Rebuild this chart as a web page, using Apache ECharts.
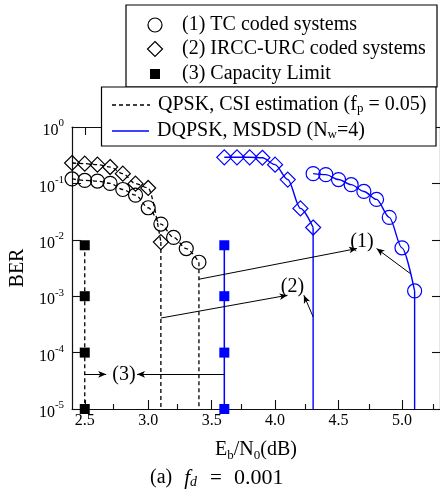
<!DOCTYPE html>
<html>
<head>
<meta charset="utf-8">
<script src="https://cdn.jsdelivr.net/npm/echarts@6/dist/echarts.min.js"></script>
<style>
  html, body { margin: 0; padding: 0; background: #fff; }
  #chart { width: 440px; height: 493px; }
</style>
</head>
<body>
<div id="chart"></div>
<script>
// BER vs Eb/N0 at fd = 0.001
const FONT = '"Liberation Serif", "DejaVu Serif", serif';

// QPSK with CSI estimation (dashed black)
const qpskTcEbN0 = [2.4, 2.5, 2.6, 2.7, 2.8, 2.9, 3.0, 3.1, 3.2, 3.3, 3.4];
const qpskTcBer = [0.12, 0.113, 0.11, 0.10, 0.078, 0.062, 0.037, 0.019, 0.011, 0.007, 0.004];
const qpskIrccEbN0 = [2.4, 2.5, 2.6, 2.7, 2.8, 2.9, 3.0, 3.1];
const qpskIrccBer = [0.23, 0.224, 0.215, 0.195, 0.149, 0.099, 0.083, 0.0091];

// DQPSK with MSDSD, Nw = 4 (solid blue)
const dqpskIrccEbN0 = [3.6, 3.7, 3.8, 3.9, 4.0, 4.1, 4.2, 4.3];
const dqpskIrccBer = [0.29, 0.29, 0.29, 0.285, 0.215, 0.117, 0.036, 0.0165];
const dqpskTcEbN0 = [4.3, 4.4, 4.5, 4.6, 4.7, 4.8, 4.9, 5.0, 5.1];
const dqpskTcBer = [0.149, 0.143, 0.117, 0.095, 0.072, 0.052, 0.025, 0.0072, 0.00124];

// Capacity limits
const capacityBer = [0.008, 1e-3, 1e-4, 1e-5];
const qpskCapacityEbN0 = 2.5;
const dqpskCapacityEbN0 = 3.6;

// Axis ranges and ticks
const berFloor = 1e-5;
const xMin = 2.4, xMax = 5.3;
const xMajorTicks = [2.5, 3.0, 3.5, 4.0, 4.5, 5.0];
const xMinorTicks = [2.75, 3.25, 3.75, 4.25, 4.75, 5.25];

// Annotation arrows [from, to] in data coordinates
const arrows = [
  [[3.4, 0.002], [4.646, 0.007]],
  [[5.068, 0.0025], [4.80, 0.007]],
  [[3.1, 4.1e-4], [4.098, 1.04e-3]],
  [[4.3, 4.3e-4], [4.227, 1.04e-3]],
  [[2.5, 4.12e-5], [2.669, 4.12e-5]],
  [[3.6, 4.12e-5], [2.912, 4.12e-5]]
];
const arrowLabels = [
  { text: '(1)', at: [4.685, 0.0092] },
  { text: '(2)', at: [4.137, 0.00146] },
  { text: '(3)', at: [2.809, 4.12e-5] }
];

const zip = (xs, ys) => xs.map((x, i) => [x, ys[i]]);
const last = (xs, ys) => [xs[xs.length - 1], ys[ys.length - 1]];
const dropLine = (xs, ys) => { const p = last(xs, ys); return [p, [p[0], berFloor]]; };

const BLUE = '#0000ff';
const DASH = [4, 3];

function curve(name, data, color, dashed, symbol, size) {
  return {
    name, type: 'line', data, smooth: 0.3, smoothMonotone: 'x',
    symbol, symbolSize: size, clip: false,
    lineStyle: { color, width: dashed ? 1.3 : 1.4, type: dashed ? DASH : 'solid' },
    itemStyle: { color: 'rgba(0,0,0,0)', borderColor: color, borderWidth: 1.2 },
    z: 3
  };
}
function straight(name, data, color, dashed) {
  return {
    name, type: 'line', data, symbol: 'none', clip: false,
    lineStyle: { color, width: dashed ? 1.3 : 1.4, type: dashed ? DASH : 'solid' },
    z: 2
  };
}
function capacity(name, x, color, dashed) {
  return {
    name, type: 'line', data: capacityBer.map(v => [x, v]),
    symbol: 'rect', symbolSize: 10, clip: false,
    lineStyle: { color, width: dashed ? 1.3 : 1.5, type: dashed ? DASH : 'solid' },
    itemStyle: { color, borderWidth: 0 },
    z: 4
  };
}

const supRich = {
  b: { fontFamily: FONT, fontSize: 16, color: '#000', lineHeight: 26 },
  s: { fontFamily: FONT, fontSize: 11, color: '#000', verticalAlign: 'top' }
};

const chart = echarts.init(document.getElementById('chart'), null, { renderer: 'canvas' });

const gridRect = { left: 68, top: 127, width: 373.5, height: 282 };
const axisLine = { show: true, lineStyle: { color: '#111', width: 1.2 } };
const txt = (size, extra) => Object.assign({ font: size + 'px ' + FONT, fill: '#000', verticalAlign: 'middle' }, extra || {});
const subRich = { s: { font: '13px ' + FONT, fill: '#000', verticalAlign: 'bottom' } };

// key boxes sit above the plot frame
const onTop = (z, els) => els.map(e => Object.assign({ z }, e));

const option = {
  animation: false,
  backgroundColor: '#fff',
  grid: [
    Object.assign({ show: false }, gridRect),
    Object.assign({ show: false }, gridRect)
  ],
  xAxis: [
    {
      type: 'value', gridIndex: 0, position: 'bottom', min: xMin, max: xMax,
      axisLine,
      axisTick: { show: true, inside: true, length: 9, customValues: xMajorTicks, lineStyle: { color: '#111', width: 1.1 } },
      axisLabel: {
        show: true, customValues: xMajorTicks, margin: 4,
        fontFamily: FONT, fontSize: 16, color: '#000',
        formatter: v => v.toFixed(1)
      },
      splitLine: { show: false },
      name: '{n|E}{s|b}{n|/N}{s|0}{n|(dB)}',
      nameLocation: 'middle', nameGap: 29,
      nameTextStyle: {
        rich: {
          n: { fontFamily: FONT, fontSize: 20, color: '#000', lineHeight: 24 },
          s: { fontFamily: FONT, fontSize: 13, color: '#000', verticalAlign: 'bottom' }
        }
      }
    },
    {
      type: 'value', gridIndex: 0, position: 'top', min: xMin, max: xMax,
      axisLine,
      axisTick: { show: true, inside: true, length: 8, customValues: xMajorTicks, lineStyle: { color: '#111', width: 1.1 } },
      axisLabel: { show: false },
      splitLine: { show: false }
    },
    {
      type: 'value', gridIndex: 1, position: 'bottom', min: xMin, max: xMax,
      axisLine: { show: false },
      axisTick: { show: true, inside: true, length: 5, customValues: xMinorTicks, lineStyle: { color: '#111', width: 1.1 } },
      axisLabel: { show: false },
      splitLine: { show: false }
    }
  ],
  yAxis: [
    {
      type: 'log', logBase: 10, gridIndex: 0, position: 'left', min: berFloor, max: 1,
      axisLine,
      axisTick: { show: true, inside: true, length: 9, lineStyle: { color: '#111', width: 1.1 } },
      minorTick: { show: false },
      axisLabel: {
        margin: 8, padding: [8, 0, 0, 0],
        formatter: v => '{b|10}{s|' + Math.round(Math.log10(v)) + '}',
        rich: supRich
      },
      splitLine: { show: false },
      name: 'BER', nameLocation: 'middle', nameRotate: 90, nameGap: 37,
      nameTextStyle: { fontFamily: FONT, fontSize: 20, color: '#000' }
    },
    {
      type: 'log', logBase: 10, gridIndex: 0, position: 'right', min: berFloor, max: 1,
      axisLine,
      axisTick: { show: true, inside: true, length: 8, lineStyle: { color: '#111', width: 1.1 } },
      axisLabel: { show: false },
      splitLine: { show: false }
    },
    {
      type: 'log', logBase: 10, gridIndex: 1, min: berFloor, max: 1,
      show: false
    }
  ],
  series: [
    curve('(1) TC, QPSK', zip(qpskTcEbN0, qpskTcBer), '#000', true, 'circle', 14),
    straight('(1) TC, QPSK limit', dropLine(qpskTcEbN0, qpskTcBer), '#000', true),
    curve('(2) IRCC-URC, QPSK', zip(qpskIrccEbN0, qpskIrccBer), '#000', true, 'diamond', 15),
    straight('(2) IRCC-URC, QPSK limit', dropLine(qpskIrccEbN0, qpskIrccBer), '#000', true),
    curve('(2) IRCC-URC, DQPSK', zip(dqpskIrccEbN0, dqpskIrccBer), BLUE, false, 'diamond', 15),
    straight('(2) IRCC-URC, DQPSK limit', dropLine(dqpskIrccEbN0, dqpskIrccBer), BLUE, false),
    curve('(1) TC, DQPSK', zip(dqpskTcEbN0, dqpskTcBer), BLUE, false, 'circle', 14),
    straight('(1) TC, DQPSK limit', dropLine(dqpskTcEbN0, dqpskTcBer), BLUE, false),
    capacity('(3) Capacity, QPSK', qpskCapacityEbN0, '#000', true),
    capacity('(3) Capacity, DQPSK', dqpskCapacityEbN0, BLUE, false),
    {
      name: 'annotations', type: 'line', data: [], symbol: 'none', z: 5,
      markLine: {
        silent: true, symbol: ['none', 'arrow'], symbolSize: [5, 8],
        label: { show: false },
        lineStyle: { color: '#000', width: 1, type: 'solid' },
        emphasis: { disabled: true },
        data: arrows.map(([a, b]) => [{ coord: a }, { coord: b }])
      }
    },
    {
      name: 'annotation labels', type: 'scatter', symbolSize: 0, z: 6,
      itemStyle: { opacity: 1 },
      data: arrowLabels.map(l => ({ value: l.at, name: l.text })),
      label: {
        show: true, position: 'inside', formatter: p => p.name,
        fontFamily: FONT, fontSize: 20, color: '#000'
      },
      emphasis: { disabled: true }
    }
  ],
  graphic: {
    elements: [
      // upper key box: marker meanings
      ...onTop(100, [
        { type: 'rect', shape: { x: 126, y: 5, width: 311, height: 82 },
          style: { fill: '#fff', stroke: '#000', lineWidth: 1.2 } },
        { type: 'circle', shape: { cx: 155, cy: 25, r: 7 },
          style: { fill: 'none', stroke: '#000', lineWidth: 1.2 } },
        { type: 'polygon', shape: { points: [[155, 41.5], [162.5, 49], [155, 56.5], [147.5, 49]] },
          style: { fill: 'none', stroke: '#000', lineWidth: 1.2 } },
        { type: 'rect', shape: { x: 150, y: 69, width: 10, height: 10 },
          style: { fill: '#000' } },
        { type: 'text', x: 182, y: 25, style: txt(20, { text: '(1) TC coded systems' }) },
        { type: 'text', x: 182, y: 49, style: txt(20, { text: '(2) IRCC-URC coded systems' }) },
        { type: 'text', x: 182, y: 74, style: txt(20, { text: '(3) Capacity Limit' }) }
      ]),
      // lower key box: line styles
      ...onTop(110, [
        { type: 'rect', shape: { x: 101.5, y: 87, width: 334.5, height: 59 },
          style: { fill: '#fff', stroke: '#000', lineWidth: 1.2 } },
        { type: 'line', shape: { x1: 112, y1: 105, x2: 150, y2: 105 },
          style: { stroke: '#000', lineWidth: 1.3, lineDash: DASH } },
        { type: 'line', shape: { x1: 112, y1: 131, x2: 149, y2: 131 },
          style: { stroke: BLUE, lineWidth: 1.4 } },
        { type: 'text', x: 158, y: 105, style: txt(20, { text: 'QPSK, CSI estimation (f{s|p} = 0.05)', rich: subRich }) },
        { type: 'text', x: 157, y: 131, style: txt(20, { text: 'DQPSK, MSDSD (N{s|w}=4)', rich: subRich }) }
      ]),
      // caption
      {
        type: 'text', z: 100, x: 150, y: 478,
        style: {
          text: '{a|(a)}{i|f}{d|d}{e|=}{n|0.001}',
          verticalAlign: 'middle',
          rich: {
            a: { font: '20px ' + FONT, fill: '#000' },
            i: { font: 'italic 21px ' + FONT, fill: '#000', padding: [0, 0, 0, 12] },
            d: { font: 'italic 14px ' + FONT, fill: '#000', verticalAlign: 'bottom' },
            e: { font: '21px ' + FONT, fill: '#000', padding: [0, 12, 0, 13] },
            n: { font: '22px ' + FONT, fill: '#000' }
          }
        }
      }
    ]
  }
};

chart.setOption(option);
</script>
</body>
</html>
